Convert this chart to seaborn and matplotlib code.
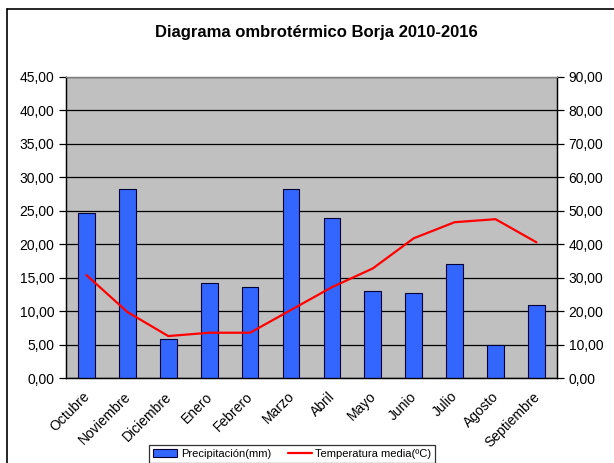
import numpy as np
import pandas as pd
import matplotlib
matplotlib.use("Agg")
import matplotlib.pyplot as plt
import matplotlib.transforms as mtransforms
import seaborn as sns
from matplotlib.lines import Line2D
from matplotlib.patches import Patch

# datos (precipitacion en mm, temperatura en ºC)
meses = ["Octubre", "Noviembre", "Diciembre", "Enero", "Febrero", "Marzo",
         "Abril", "Mayo", "Junio", "Julio", "Agosto", "Septiembre"]
precipitacion = [49.2, 56.6, 11.6, 28.3, 27.4, 56.4,
                 48.0, 26.2, 25.6, 34.0, 10.0, 22.0]
temperatura = [15.4, 9.9, 6.3, 6.8, 6.8, 10.2,
               13.6, 16.4, 20.9, 23.3, 23.75, 20.3]
ticks_temp = np.arange(0, 46, 5)
ticks_prec = np.arange(0, 91, 10)

df = pd.DataFrame({"mes": meses, "prec": precipitacion,
                   "temp": temperatura, "pos": range(len(meses))})

sns.set_style("white")
plt.rcParams["font.family"] = ["Liberation Sans", "DejaVu Sans"]
plt.rcParams["text.color"] = "black"
plt.rcParams["xtick.color"] = "black"
plt.rcParams["ytick.color"] = "black"

fig = plt.figure(figsize=(6.14, 4.63), dpi=100)
ax = fig.add_axes([0.1075, 0.183, 0.7995, 0.651])
ax.set_facecolor("#C0C0C0")

# barras en el eje de precipitacion (derecha)
sns.barplot(data=df, x="mes", y="prec", ax=ax, color="#3366FF",
            width=0.41, saturation=1, edgecolor="#000033", linewidth=0.8,
            zorder=3)
ax.set_ylim(0, 90)
ax.set_xlim(-0.5, len(meses) - 0.5)
ax.grid(axis="y", color="black", linewidth=0.9, zorder=1)
ax.set_axisbelow(True)

# linea de temperatura (izquierda)
ax2 = ax.twinx()
sns.lineplot(data=df, x="pos", y="temp", ax=ax2, color="red",
             linewidth=1.6, zorder=5)
ax2.set_ylim(0, 45)
ax2.set_yticks(ticks_temp)
ax2.set_yticklabels(["{:.2f}".format(v).replace(".", ",") for v in ticks_temp])
ax2.yaxis.tick_left()
ax2.patch.set_visible(False)

ax.set_yticks(ticks_prec)
ax.set_yticklabels(["{:.2f}".format(v).replace(".", ",") for v in ticks_prec])
ax.yaxis.tick_right()

for a in (ax, ax2):
    a.set_xlabel("")
    a.set_ylabel("")
    for s in a.spines.values():
        s.set_color("black")
        s.set_linewidth(0.9)
    a.spines["top"].set_color("#808080")
    a.tick_params(axis="y", direction="out", length=5, width=0.9,
                  labelsize=10, color="black", labelcolor="black")

# marcas del eje x entre categorias
ax.set_xticks(np.arange(-0.5, len(meses), 1.0))
ax.set_xticklabels([])
ax.set_xticks(range(len(meses)), minor=True)
ax.set_xticklabels(meses, minor=True, rotation=45, ha="right",
                   rotation_mode="anchor", fontsize=10, color="black")
ax.tick_params(axis="x", which="major", direction="out", length=5,
               width=0.9, bottom=True)
ax.tick_params(axis="x", which="minor", length=0, pad=8, bottom=True)
ax2.set_xticks([])
offset = mtransforms.ScaledTranslation(-4 / 100, 0, fig.dpi_scale_trans)
for lbl in ax.get_xticklabels(minor=True):
    lbl.set_transform(lbl.get_transform() + offset)

fig.suptitle("Diagrama ombrotérmico Borja 2010-2016", x=0.515, y=0.945,
             fontsize=12, fontweight="bold", color="black")

handles = [Patch(facecolor="#3366FF", edgecolor="#000033", linewidth=0.8),
           Line2D([], [], color="red", linewidth=1.6)]
leg = fig.legend(handles, ["Precipitación(mm)", "Temperatura media(ºC)"],
                 loc="lower center", bbox_to_anchor=(0.476, -0.012), ncol=2,
                 fontsize=8, frameon=True, fancybox=False, handlelength=2.2,
                 handletextpad=0.3, columnspacing=1.5, borderpad=0.35)
leg.get_frame().set_edgecolor("black")
leg.get_frame().set_linewidth(0.9)

# marco del grafico
fig.add_artist(Line2D([0.011, 1.0], [0.981, 0.981], color="black",
                      linewidth=1.2, transform=fig.transFigure))
fig.add_artist(Line2D([0.011, 0.011], [0.0, 0.981], color="black",
                      linewidth=1.2, transform=fig.transFigure))

fig.savefig("out.png", dpi=100)
